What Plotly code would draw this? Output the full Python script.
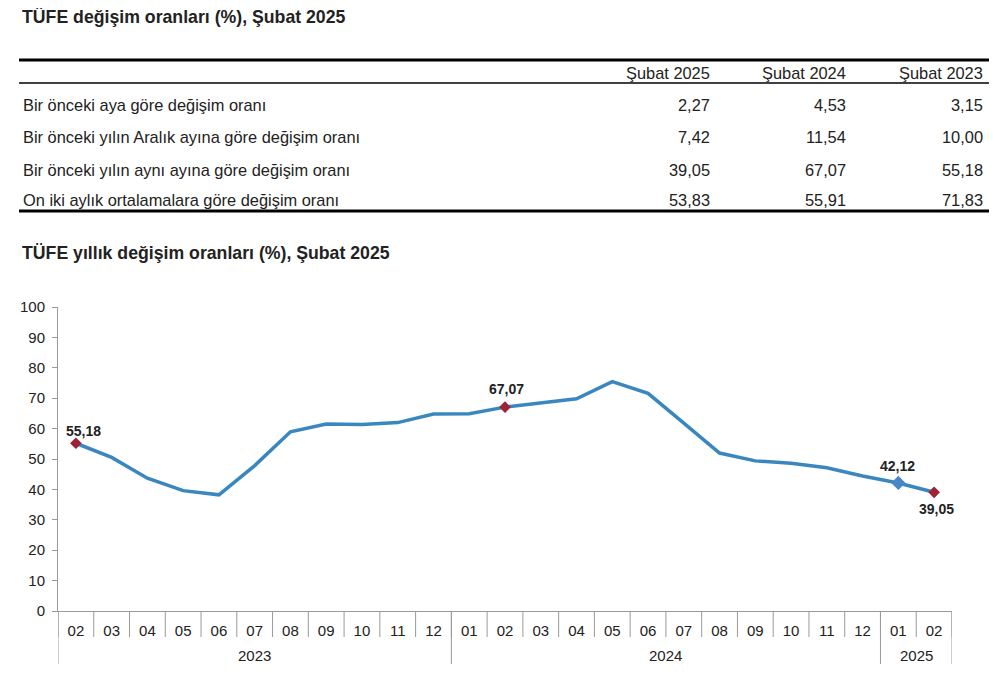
import plotly.graph_objects as go

# --- data ---
months = ["02", "03", "04", "05", "06", "07", "08", "09", "10", "11", "12",
          "01", "02", "03", "04", "05", "06", "07", "08", "09", "10", "11", "12",
          "01", "02"]
year_names = ["2023", "2024", "2025"]
year_counts = [11, 12, 2]
annual = [55.18, 50.51, 43.68, 39.59, 38.21, 47.83, 58.94, 61.53, 61.36, 61.98, 64.77,
          64.86, 67.07, 68.50, 69.80, 75.45, 71.60, 61.78, 51.97, 49.38, 48.58, 47.09, 44.38,
          42.12, 39.05]

# labelled points: index, label placement (dx, dy in px)
red_idx = [0, 12, 24]
blue_idx = [23]
label_idx = [0, 12, 23, 24]
label_shift = [(8, 12), (1, 18), (-1, 17), (2, -17)]

row_labels = ["Bir önceki aya göre değişim oranı",
              "Bir önceki yılın Aralık ayına göre değişim oranı",
              "Bir önceki yılın aynı ayına göre değişim oranı",
              "On iki aylık ortalamalara göre değişim oranı"]
col_heads = ["Şubat 2025", "Şubat 2024", "Şubat 2023"]
feb2025 = [2.27, 7.42, 39.05, 53.83]
feb2024 = [4.53, 11.54, 67.07, 55.91]
feb2023 = [3.15, 10.00, 55.18, 71.83]

# page body has an 8px margin, so the figure is laid out in page px minus 8
OFF = 8
W, H = 1007 - 2 * OFF, 700 - 2 * OFF
L, R, T, B = 58 - OFF, 952 - OFF, 307 - OFF, 611 - OFF
FONT = "Liberation Sans, Arial, sans-serif"
LINE = "#3a87c0"
RED = "#9b2335"
AXIS = "#9a9a9a"


def fx(px):
    return (px - OFF - L) / (R - L)


def fy(py):
    return (B - (py - OFF)) / (B - T)


def fmt(v):
    return f"{v:.2f}".replace(".", ",")


xs = list(range(len(months)))

fig = go.Figure()
fig.add_trace(go.Scatter(
    x=xs, y=annual, mode="lines",
    line=dict(color=LINE, width=3.5), hoverinfo="y", showlegend=False,
))
fig.add_trace(go.Scatter(
    x=[xs[i] for i in blue_idx], y=[annual[i] for i in blue_idx],
    mode="markers", marker=dict(symbol="diamond", size=11, color="#4a86c5"),
    showlegend=False,
))
fig.add_trace(go.Scatter(
    x=[xs[i] for i in red_idx], y=[annual[i] for i in red_idx],
    mode="markers", marker=dict(symbol="diamond", size=9, color=RED),
    showlegend=False,
))

ann = []
shapes = []

# point labels
for i, (dx, dy) in zip(label_idx, label_shift):
    ann.append(dict(x=xs[i], y=annual[i], xref="x", yref="y", text=f"<b>{fmt(annual[i])}</b>",
                    xshift=dx, yshift=dy, showarrow=False,
                    font=dict(family=FONT, size=14, color="#222")))

# x axis dividers (category boundaries)
for k in range(len(months) + 1):
    shapes.append(dict(type="line", xref="x", yref="paper", x0=k - 0.5, x1=k - 0.5,
                       y0=0, y1=fy(637), line=dict(color=AXIS, width=1)))
start = 0
bounds = [0]
for name, n in zip(year_names, year_counts):
    ann.append(dict(x=start + (n - 1) / 2, y=fy(655), xref="x", yref="paper", text=name,
                    showarrow=False, yanchor="middle", font=dict(size=15, color="#222")))
    start += n
    bounds.append(start)
for b in bounds:
    shapes.append(dict(type="line", xref="x", yref="paper", x0=b - 0.5, x1=b - 0.5,
                       y0=0, y1=fy(664), line=dict(color=AXIS, width=1)))

# titles
ann.append(dict(x=fx(20), y=fy(17), text="<b>TÜFE değişim oranları (%), Şubat 2025</b>",
                xref="paper", yref="paper", showarrow=False,
                xanchor="left", yanchor="middle", font=dict(size=17.7)))
ann.append(dict(x=fx(20), y=fy(253), text="<b>TÜFE yıllık değişim oranları (%), Şubat 2025</b>",
                xref="paper", yref="paper", showarrow=False,
                xanchor="left", yanchor="middle", font=dict(size=17.7)))

# table rules
for py, w in [(60, 3), (83, 1.5), (211, 3)]:
    shapes.append(dict(type="line", xref="paper", yref="paper", x0=fx(19), x1=fx(989),
                       y0=fy(py), y1=fy(py), line=dict(color="black", width=w)))

col_right = [712, 848, 985]
for h, cx in zip(col_heads, col_right):
    ann.append(dict(x=fx(cx), y=fy(73), text=h, xref="paper", yref="paper", showarrow=False,
                    xanchor="right", yanchor="middle", font=dict(size=16.4)))
row_y = [105, 137, 170, 200]
for lab, ry, a, b, c in zip(row_labels, row_y, feb2025, feb2024, feb2023):
    ann.append(dict(x=fx(21), y=fy(ry), text=lab, xref="paper", yref="paper", showarrow=False,
                    xanchor="left", yanchor="middle", font=dict(size=16.4)))
    for v, cx in zip([a, b, c], col_right):
        ann.append(dict(x=fx(cx), y=fy(ry), text=fmt(v), xref="paper", yref="paper",
                        showarrow=False, xanchor="right", yanchor="middle",
                        font=dict(size=16.4)))

fig.update_layout(
    width=W, height=H,
    margin=dict(l=L, r=W - R, t=T, b=H - B, pad=0),
    paper_bgcolor="white", plot_bgcolor="white",
    font=dict(family=FONT, size=14, color="#222"),
    separators=",.",
    annotations=ann, shapes=shapes,
    showlegend=False,
)
fig.update_xaxes(
    range=[-0.5, len(months) - 0.5], tickvals=xs, ticktext=months,
    showline=True, linecolor=AXIS, linewidth=1, ticks="", ticklabelstandoff=6,
    tickfont=dict(family=FONT, size=15, color="#222"),
    showgrid=False, zeroline=False, automargin=False,
)
fig.update_yaxes(
    range=[0, 100], dtick=10, showline=True, linecolor=AXIS, linewidth=1,
    ticks="outside", ticklen=5, tickcolor=AXIS, showgrid=False, zeroline=False,
    tickfont=dict(family=FONT, size=15, color="#222"), tickformat="d", automargin=False,
    ticklabelstandoff=4,
)

fig.write_html("out.html")
